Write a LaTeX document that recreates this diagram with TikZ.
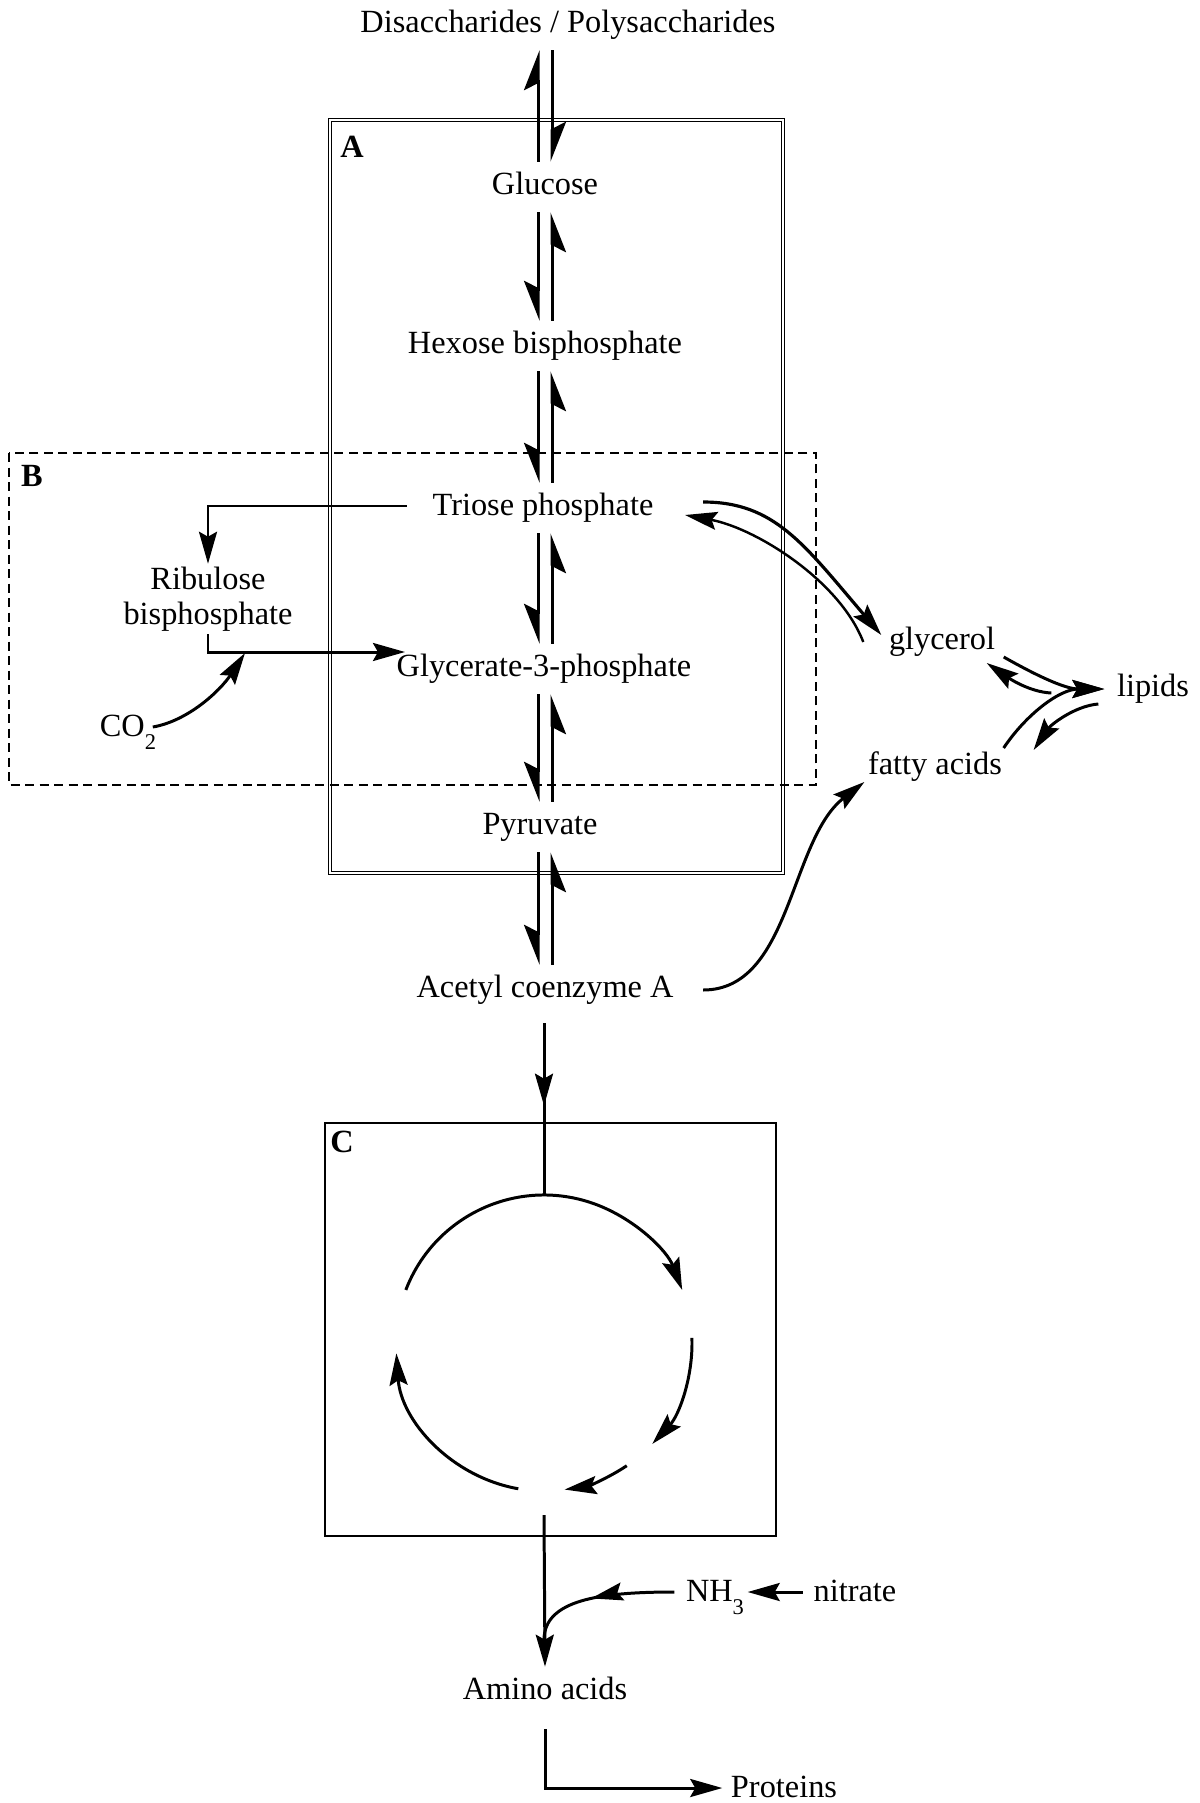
\documentclass[tikz,border=0pt]{standalone}
\usepackage{fontspec}
\setmainfont{Liberation Serif}
\usetikzlibrary{arrows.meta,decorations.markings}
\newcommand{\lowidx}[1]{\raisebox{-3.6pt}{\fontsize{6.4}{7}\selectfont #1}}

\begin{document}
\begin{tikzpicture}[
    x=0.01cm, y=0.01cm,
    >={Stealth[length=3.2mm,width=1.8mm,inset=0.5mm]},
    met/.style={font=\fontsize{9.2}{11}\selectfont, inner xsep=0pt, inner ysep=2.6pt, text height=6.6pt, text depth=2.2pt},
    boxlbl/.style={font=\fontsize{9.2}{11}\selectfont\bfseries, inner sep=0pt},
    arr/.style={->, line width=0.85pt},
    harp/.style={line width=0.85pt, -{Stealth[harpoon,length=3.6mm,width=2.8mm,inset=0.7mm]}},
    harpsw/.style={line width=0.85pt, -{Stealth[harpoon,swap,length=3.6mm,width=2.8mm,inset=0.7mm]}},
    midarr/.style={line width=0.85pt, postaction={decorate},
      decoration={markings, mark=at position #1 with {\arrow{>}}}},
    cyc/.style={->, line width=0.85pt}
  ]
  \useasboundingbox (0,0) rectangle (1200,-1803);

  % compartments
  \draw[line width=0.4pt, double, double distance=0.017cm] (330,-120) rectangle (783,-873);
  \draw[line width=0.55pt, dash pattern=on 0.09cm off 0.055cm] (9,-453) rectangle (816,-785);
  \draw[line width=0.5pt] (325,-1123) rectangle (776,-1536);
  \node[boxlbl] (labA) at (352,-147) {A};
  \node[boxlbl] (labB) at (32,-476) {B};
  \node[boxlbl] (labC) at (342,-1142) {C};

  % metabolites
  \node[met] (disac) at (568,-25) {Disaccharides / Polysaccharides};
  \node[met] (gluc) at (545,-187) {Glucose};
  \node[met] (hex) at (545,-346) {Hexose bisphosphate};
  \node[met] (triose) at (543,-508) {Triose phosphate};
  \node[met] (glyc) at (544,-669) {Glycerate-3-phosphate};
  \node[met] (pyr) at (540,-827) {Pyruvate};
  \node[met] (acetyl) at (545,-990) {Acetyl coenzyme A};
  \node[font=\fontsize{9.2}{10}\selectfont, align=center, inner sep=0pt, minimum height=0.69cm] (ribu) at (208,-599) {Ribulose\\bisphosphate};
  \node[met] (co2) at (128,-729) {CO\lowidx{2}};
  \node[met] (glycerol) at (942,-642) {glycerol};
  \node[met] (lipids) at (1153,-689) {lipids};
  \node[met] (fatty) at (935,-767) {fatty acids};
  \node[met] (nh3) at (715,-1594) {NH\lowidx{3}};
  \node[met] (nitrate) at (855,-1594) {nitrate};
  \node[met] (amino) at (545,-1692) {Amino acids};
  \node[met] (prot) at (784,-1790) {Proteins};

  % glycolysis ladder
  \coordinate (L) at (538,0);
  \coordinate (R) at (552,0);
  \draw[harp] (L |- gluc.north) -- (L |- disac.south);
  \draw[harp] (R |- disac.south) -- (R |- gluc.north);
  \foreach \a/\b in {gluc/hex, hex/triose, triose/glyc, glyc/pyr, pyr/acetyl}{
    \draw[harpsw] (L |- \a.south) -- (L |- \b.north);
    \draw[harpsw] (R |- \b.north) -- (R |- \a.south);
  }

  % Calvin cycle
  \coordinate (cofix) at (245,-653);
  \draw[arr] ([shift={(-25,2)}]triose.west) -| (ribu.north);
  \draw[arr] (ribu.south) |- ([shift={(9,17)}]glyc.west);
  \draw[arr] ([shift={(-4,2)}]co2.east) .. controls +(35,6) and +(-25,-38) .. (cofix);

  % lipids
  \draw[arr, line width=0.9pt] ([shift={(49,6)}]triose.east) .. controls +(72,0) and +(-77,90) .. ([shift={(-7,7)}]glycerol.west);
  \draw[arr, line width=0.7pt] ([shift={(-25,0)}]glycerol.west) .. controls +(-24,62) and +(70,-13) .. ([shift={(31,-7)}]triose.east);
  \draw[arr] ([shift={(8,-15)}]glycerol.east) .. controls +(30,-17) and +(-40,0) .. ([shift={(-12,0)}]lipids.west);
  \draw[arr] ([shift={(-65,-4)}]lipids.west) .. controls +(-22,1) and +(22,-15) .. ([shift={(-9,-21)}]glycerol.east);
  \draw[arr] ([shift={(1,19)}]fatty.east) .. controls +(22,33) and +(-45,0) .. ([shift={(-12,0)}]lipids.west);
  \draw[arr] ([shift={(-18,-15)}]lipids.west) .. controls +(-24,-2) and +(17,25) .. ([shift={(31,17)}]fatty.east);
  \draw[arr] ([shift={(29,0)}]acetyl.east) .. controls +(88,0) and +(-75,-58) .. ([shift={(-3,-15)}]fatty.west);

  % Krebs cycle
  \coordinate (kc) at (544,-1343);
  \draw[midarr=0.48] ([shift={(-1,-8)}]acetyl.south) -- ([yshift=1.48cm]kc);
  \draw[cyc] (kc) ++(159:148) arc[start angle=159, end angle=21, radius=148];
  \draw[cyc] (kc) ++(2:148) arc[start angle=2, end angle=-43, radius=148];
  \draw[cyc] (kc) ++(-56:148) arc[start angle=-56, end angle=-82, radius=148];
  \draw[cyc] (kc) ++(-100:148) arc[start angle=-100, end angle=-176, radius=148];
  \draw[arr] ([yshift=-1.72cm]kc) -- (amino.north);

  % nitrogen
  \coordinate (njoin) at (544,-1640);
  \draw[midarr=0.55] ([shift={(-11,2)}]nh3.west) .. controls +(-75,0) and +(0,40) .. (njoin);
  \draw[arr] ([shift={(-10,2)}]nitrate.west) -- ([shift={(3,2)}]nh3.east);
  \draw[arr] ([yshift=-0.12cm]amino.south) |- ([shift={(-8,2)}]prot.west);
\end{tikzpicture}
\end{document}
